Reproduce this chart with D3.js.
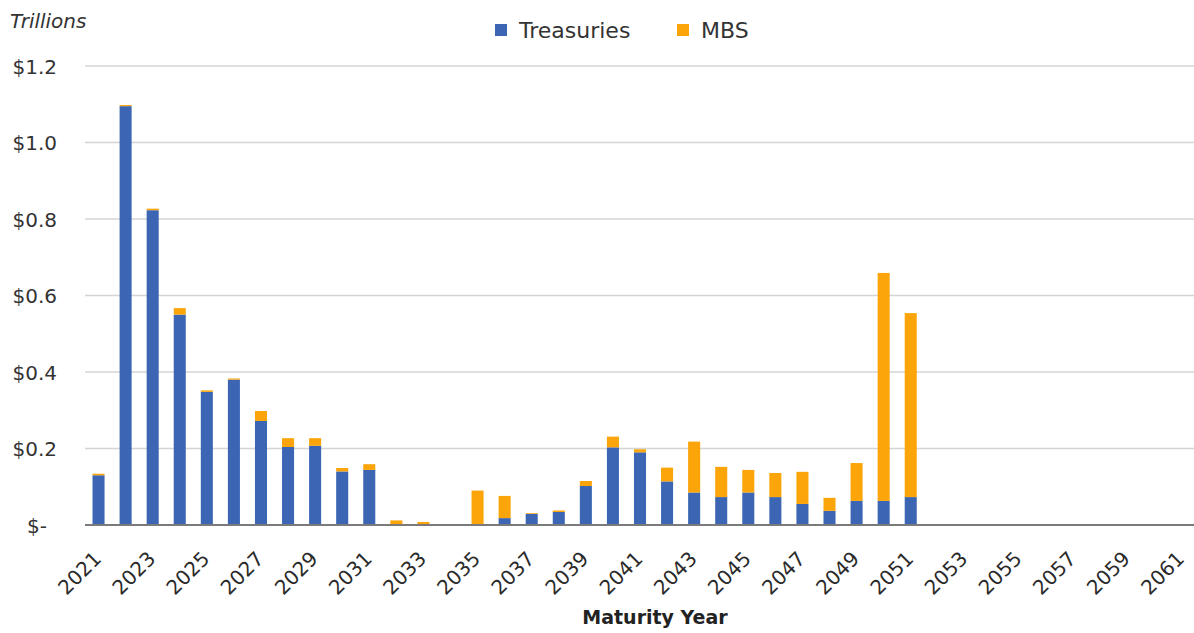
<!DOCTYPE html>
<html>
<head>
<meta charset="utf-8">
<script src="https://cdn.jsdelivr.net/npm/d3@7"></script>
<style>
  html, body { margin: 0; padding: 0; background: #fff; }
  svg { display: block; }
  text { font-family: "DejaVu Sans", sans-serif; fill: #333; }
</style>
</head>
<body>
<svg id="chart" width="1194" height="633"></svg>
<script>
// Maturity years 2021..2061
const years = d3.range(2021, 2062).map(String);

// Treasuries (trillions $)
const treasuries = [
  0.130, 1.095, 0.823, 0.550, 0.348, 0.380, 0.272, 0.204, 0.207, 0.140,
  0.144, 0.000, 0.000, 0.000, 0.000, 0.018, 0.029, 0.034, 0.102, 0.203,
  0.190, 0.114, 0.085, 0.073, 0.085, 0.073, 0.055, 0.037, 0.063, 0.063,
  0.073, 0, 0, 0, 0, 0, 0, 0, 0, 0, 0
];

// MBS (trillions $)
const mbs = [
  0.004, 0.003, 0.004, 0.017, 0.004, 0.003, 0.026, 0.023, 0.020, 0.009,
  0.015, 0.012, 0.008, 0.000, 0.090, 0.058, 0.002, 0.004, 0.013, 0.028,
  0.008, 0.036, 0.133, 0.079, 0.059, 0.063, 0.084, 0.034, 0.099, 0.596,
  0.481, 0, 0, 0, 0, 0, 0, 0, 0, 0, 0
];

const seriesNames = ["Treasuries", "MBS"];
const seriesColors = ["#3C66B4", "#FBA50A"];
const yTicks = [0, 0.2, 0.4, 0.6, 0.8, 1.0, 1.2];
const xTickYears = years.filter((d, i) => i % 2 === 0);

const svg = d3.select("#chart");
const W = 1194, H = 633;
const margin = { left: 85, right: -1, top: 66, bottom: 108 };

const x = d3.scaleBand()
  .domain(years)
  .range([margin.left, W - margin.right])
  .paddingInner(0.555)
  .paddingOuter(0.2775);

const y = d3.scaleLinear()
  .domain([0, 1.2])
  .range([H - margin.bottom, margin.top]);

// gridlines
svg.append("g")
  .selectAll("line")
  .data(yTicks.filter(d => d > 0))
  .join("line")
  .attr("x1", margin.left)
  .attr("x2", W)
  .attr("y1", d => y(d))
  .attr("y2", d => y(d))
  .attr("stroke", "#d4d4d4")
  .attr("stroke-width", 1.5);

// y axis labels
const yAxis = d3.axisLeft(y)
  .tickValues(yTicks)
  .tickSize(0)
  .tickPadding(0)
  .tickFormat(d => d === 0 ? "$-" : "$" + d.toFixed(1));

const yg = svg.append("g")
  .attr("transform", `translate(57,0)`)
  .call(yAxis);
yg.select(".domain").remove();
yg.selectAll("text")
  .style("font-size", "20px")
  .style("fill", "#333")
  .attr("dy", "0.36em")
  .attr("dx", d => d === 0 ? -10 : 0);

// stacked data
const table = years.map((yr, i) => ({ year: yr, Treasuries: treasuries[i], MBS: mbs[i] }));
const stack = d3.stack().keys(seriesNames)(table);

svg.append("g")
  .selectAll("g")
  .data(stack)
  .join("g")
  .attr("fill", (d, i) => seriesColors[i])
  .selectAll("rect")
  .data(d => d)
  .join("rect")
  .attr("x", d => x(d.data.year))
  .attr("width", x.bandwidth())
  .attr("y", d => y(d[1]))
  .attr("height", d => Math.max(0, y(d[0]) - y(d[1])));

// baseline axis
const xAxis = d3.axisBottom(x)
  .tickValues(xTickYears)
  .tickSize(0)
  .tickPadding(0);

const xg = svg.append("g")
  .attr("transform", `translate(0,${y(0)})`)
  .call(xAxis);
xg.select(".domain")
  .attr("d", `M${margin.left},0H${W}`)
  .attr("stroke", "#7a7a7a")
  .attr("stroke-width", 2);
xg.selectAll(".tick text")
  .style("font-size", "20px")
  .style("fill", "#2a2a2a")
  .attr("text-anchor", "end")
  .attr("dy", 0)
  .attr("transform", "translate(4,35) rotate(-45)");

// axis title
svg.append("text")
  .attr("x", 655)
  .attr("y", 624)
  .attr("text-anchor", "middle")
  .style("font-size", "19px")
  .style("font-weight", "bold")
  .style("fill", "#222")
  .text("Maturity Year");

// units label
svg.append("text")
  .attr("x", 10)
  .attr("y", 28)
  .style("font-size", "20px")
  .style("font-style", "italic")
  .style("fill", "#333")
  .text("Trillions");

// legend
const legend = svg.append("g");
const legendItems = [
  { name: seriesNames[0], color: seriesColors[0], x: 495 },
  { name: seriesNames[1], color: seriesColors[1], x: 677 }
];
const li = legend.selectAll("g")
  .data(legendItems)
  .join("g")
  .attr("transform", d => `translate(${d.x},0)`);
li.append("rect")
  .attr("x", 0)
  .attr("y", 24)
  .attr("width", 12)
  .attr("height", 12)
  .attr("fill", d => d.color);
li.append("text")
  .attr("x", 24)
  .attr("y", 38)
  .style("font-size", "22px")
  .style("fill", "#333")
  .text(d => d.name);
</script>
</body>
</html>
